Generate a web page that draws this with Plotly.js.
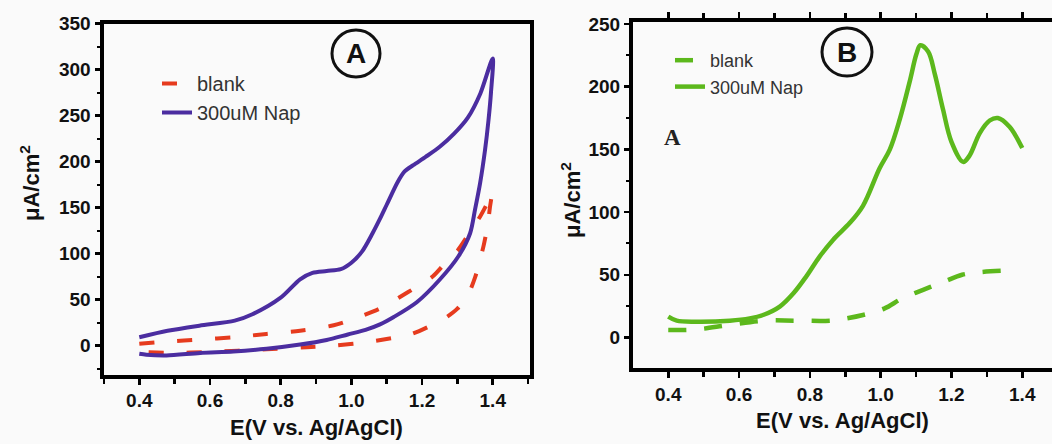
<!DOCTYPE html>
<html>
<head>
<meta charset="utf-8">
<script src="https://cdn.plot.ly/plotly-3.0.1.min.js"></script>
<style>html,body{margin:0;padding:0;background:#fafafa;}#chart{width:1052px;height:444px;}</style>
</head>
<body>
<div id="chart"></div>
<script>
// ---- Panel A (cyclic voltammetry) ----
const blankA_E = [0.40,0.48,0.57,0.67,0.76,0.855,0.95,1.00,1.08,1.13,1.19,1.23,1.28,1.30,1.34,1.364,1.385,1.398,
                  1.392,1.386,1.375,1.364,1.35,1.331,1.30,1.27,1.232,1.171,1.129,1.043,0.95,0.874,0.76,0.60,0.48,0.40];
const blankA_I = [1.8,4.3,6.5,9,12.6,16,22,28,40,51,65,75,96,103,126,140,155,167,
                  150,132,110,93,74,56,40,31,23,12.6,9,3.6,0,-1.8,-4,-7,-8,-7];
const napA_E = [0.40,0.48,0.57,0.67,0.72,0.80,0.855,0.89,0.93,0.97,1.00,1.03,1.06,1.08,1.10,1.13,1.15,1.175,1.21,1.25,1.29,1.33,1.365,1.40,
                1.395,1.388,1.378,1.364,1.35,1.336,1.303,1.251,1.185,1.12,1.081,1.04,0.99,0.93,0.855,0.76,0.666,0.572,0.477,0.42,0.40];
const napA_I = [9,16,21.6,27,34,52,72,79,81,83,90,102,122,137,153,177,189,196,205,216,230,248,274,312,
                275,245,212,176,148,122,97,72,47,31,23,17,12,6,1,-3.6,-6.5,-8,-10.8,-10,-9];

// ---- Panel B (differential pulse) ----
const blankB_E = [0.40,0.48,0.57,0.67,0.76,0.86,0.90,0.95,1.01,1.06,1.12,1.18,1.23,1.28,1.37];
const blankB_I = [5.9,6.4,9.9,13.4,13.4,13.4,15,17.9,23,31,38,44.6,50,52,53.5];
const napB_E = [0.40,0.424,0.48,0.574,0.63,0.668,0.715,0.753,0.79,0.828,0.866,0.913,0.95,0.997,1.026,1.054,1.082,1.101,1.112,1.134,1.153,1.176,1.20,1.233,1.251,1.28,1.308,1.331,1.364,1.40];
const napB_I = [16.6,13.4,12.6,13.4,15.2,17.9,24.6,35,48.7,64.7,78,91.4,105,135,150,174,204,226,233,228,210,182,156,140,145,163,173,175,168,151];

const xTicks = [0.4,0.6,0.8,1.0,1.2,1.4];
const xTickText = ['0.4','0.6','0.8','1.0','1.2','1.4'];
const yTicksA = [0,50,100,150,200,250,300,350];
const yTicksB = [0,50,100,150,200,250];
const seriesNames = ['blank','300uM Nap'];
const xTitle = 'E(V vs. Ag/AgCl)';
const yTitle = 'μA/cm<sup>2</sup>';

const W = 1052, H = 444;
const px = v => v / W;
const py = v => 1 - v / H;
const bold = arr => arr.map(v => '<b>' + v + '</b>');

const red = '#e63b1e', purple = '#4b2da0', green = '#5cb81c';
const FAM = 'Liberation Sans, Arial, sans-serif';
const tickFont = {family: FAM, size: 19, color: '#111', weight: 700};
const titleFont = {family: FAM, size: 22, color: '#111', weight: 700};

const data = [
  {x: blankA_E, y: blankA_I, name: seriesNames[0], xaxis: 'x', yaxis: 'y', legend: 'legend', mode: 'lines',
   line: {color: red, width: 4, dash: '15px,23px', shape: 'spline', smoothing: 0.8}},
  {x: napA_E, y: napA_I, name: seriesNames[1], xaxis: 'x', yaxis: 'y', legend: 'legend', mode: 'lines',
   line: {color: purple, width: 4, shape: 'spline', smoothing: 0.8}},
  {x: blankB_E, y: blankB_I, name: seriesNames[0], xaxis: 'x2', yaxis: 'y2', legend: 'legend2', mode: 'lines',
   line: {color: green, width: 4.5, dash: '18px,18px', shape: 'spline', smoothing: 1}},
  {x: napB_E, y: napB_I, name: seriesNames[1], xaxis: 'x2', yaxis: 'y2', legend: 'legend2', mode: 'lines',
   line: {color: green, width: 4.5, shape: 'spline', smoothing: 1}}
];

function xax(domain, range, mirror, anchor) {
  return {domain: domain, range: range, anchor: anchor, showgrid: false, zeroline: false, showline: true, linecolor: '#000', linewidth: 4,
    mirror: mirror, ticks: 'outside', ticklen: 6, tickwidth: 2.5, tickcolor: '#000',
    tickmode: 'array', tickvals: xTicks, ticktext: bold(xTickText), tickfont: tickFont,
    minor: {dtick: 0.1, tick0: 0, ticks: 'outside', ticklen: 5, tickwidth: 2.5, tickcolor: '#000'},
    title: {text: xTitle, font: titleFont, standoff: 10}};
}
function yax(domain, range, anchor, mirror, vals) {
  return {domain: domain, range: range, anchor: anchor, showgrid: false, zeroline: false, showline: true, linecolor: '#000', linewidth: 4,
    mirror: mirror, ticks: 'outside', ticklen: 5, tickwidth: 2.5, tickcolor: '#000',
    tickmode: 'array', tickvals: vals, ticktext: bold(vals), tickfont: tickFont,
    minor: {dtick: 25, tick0: 0, ticks: 'outside', ticklen: 3, tickwidth: 2, tickcolor: '#000'}};
}

const layout = {
  width: W, height: H,
  margin: {l: 0, r: 0, t: 0, b: 0},
  paper_bgcolor: '#fafafa', plot_bgcolor: '#fafafa',
  font: {family: FAM},
  xaxis: xax([px(103.5), px(529.5)], [0.2987, 1.504], true, 'y'),
  yaxis: yax([py(374.5), py(23.5)], [-31.5, 350], 'x', true, yTicksA),
  xaxis2: xax([px(633), 1], [0.3004, 1.484], 'allticks', 'y2'),
  yaxis2: yax([py(367.8), py(22.2)], [-24.2, 251.4], 'x2', false, yTicksB),
  legend: {x: px(157), y: py(64), xanchor: 'left', yanchor: 'top', bgcolor: 'rgba(0,0,0,0)',
           font: {family: FAM, size: 20, color: '#333'}, tracegroupgap: 0},
  legend2: {x: px(670), y: py(42), xanchor: 'left', yanchor: 'top', bgcolor: 'rgba(0,0,0,0)',
            font: {family: FAM, size: 18, color: '#333'}, tracegroupgap: 0},
  shapes: [
    {type: 'circle', xref: 'paper', yref: 'paper', x0: px(332), x1: px(380), y0: py(77), y1: py(30), line: {color: '#111', width: 3}},
    {type: 'circle', xref: 'paper', yref: 'paper', x0: px(822), x1: px(872), y0: py(76), y1: py(28), line: {color: '#111', width: 3}}
  ],
  annotations: [
    {text: yTitle, xref: 'paper', yref: 'paper', x: px(30), y: py(183), xanchor: 'center', yanchor: 'middle', textangle: -90,
     showarrow: false, font: titleFont},
    {text: yTitle, xref: 'paper', yref: 'paper', x: px(571), y: py(200), xanchor: 'center', yanchor: 'middle', textangle: -90,
     showarrow: false, font: titleFont},
    {text: '<b>A</b>', xref: 'paper', yref: 'paper', x: px(356), y: py(54), xanchor: 'center', yanchor: 'middle', showarrow: false,
     font: {family: FAM, size: 28, color: '#111'}},
    {text: '<b>B</b>', xref: 'paper', yref: 'paper', x: px(847), y: py(52), xanchor: 'center', yanchor: 'middle', showarrow: false,
     font: {family: FAM, size: 28, color: '#111'}},
    {text: '<b>A</b>', xref: 'paper', yref: 'paper', x: px(672), y: py(138), xanchor: 'center', yanchor: 'middle', showarrow: false,
     font: {family: 'Liberation Serif, Times New Roman, serif', size: 23, color: '#222'}}
  ]
};

Plotly.newPlot('chart', data, layout, {staticPlot: true, displayModeBar: false});
</script>
</body>
</html>
